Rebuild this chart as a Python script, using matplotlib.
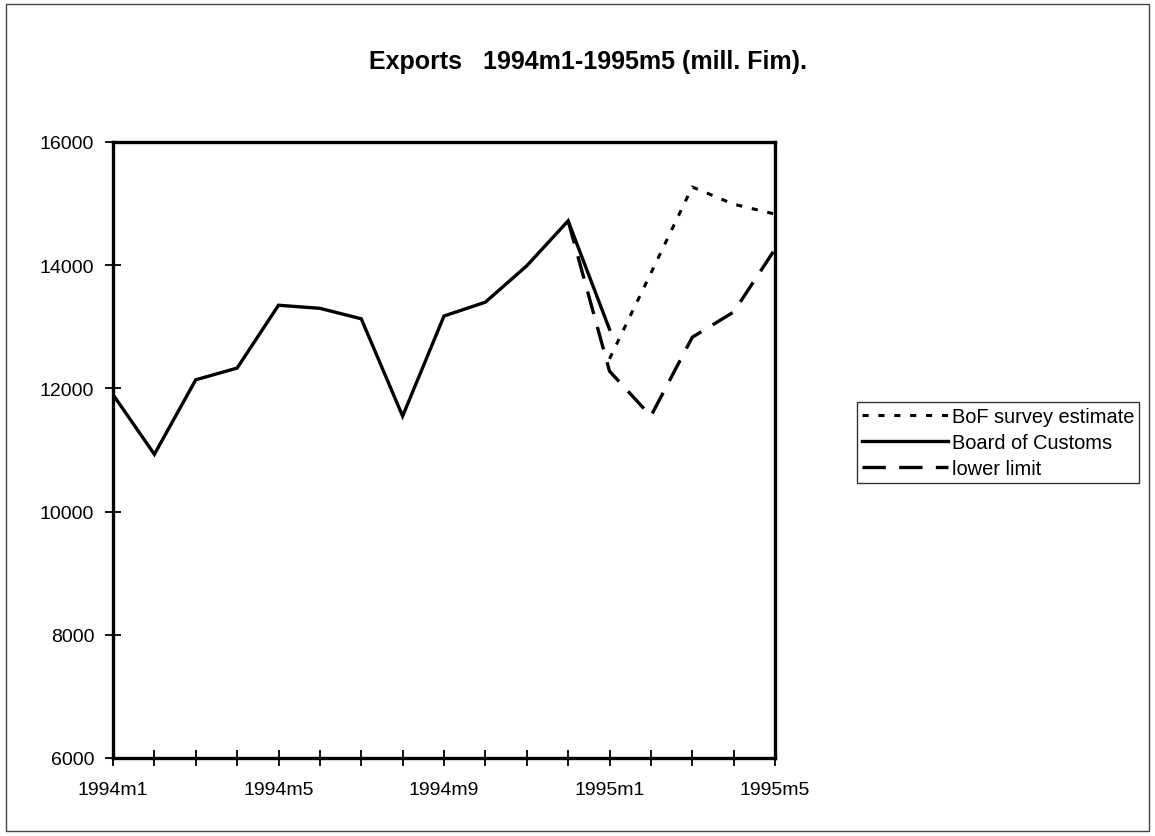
import matplotlib
matplotlib.use("Agg")
import matplotlib.pyplot as plt
from matplotlib.patches import Rectangle

plt.rcParams['font.family'] = ['Liberation Sans', 'DejaVu Sans']

months = ["1994m1", "1994m2", "1994m3", "1994m4", "1994m5", "1994m6", "1994m7", "1994m8",
          "1994m9", "1994m10", "1994m11", "1994m12", "1995m1", "1995m2", "1995m3", "1995m4", "1995m5"]
tick_labels = ["1994m1", "", "", "", "1994m5", "", "", "", "1994m9", "", "", "", "1995m1", "", "", "", "1995m5"]

customs = [11900, 10930, 12140, 12330, 13350, 13300, 13130, 11550, 13175, 13400, 13990, 14720, 12960]
bof_idx = [12, 13, 14, 15, 16]
bof = [12480, 13870, 15270, 14990, 14830]
lower_idx = [11, 12, 13, 14, 15, 16]
lower = [14720, 12280, 11550, 12830, 13240, 14260]

W, H = 1155, 837
fig = plt.figure(figsize=(W / 100, H / 100), dpi=100)
ax = fig.add_axes([113 / W, 1 - 759 / H, (775 - 113) / W, (759 - 143) / H])

x = list(range(len(months)))
l1, = ax.plot(bof_idx, bof, color='black', lw=2.2, linestyle=(0, (2, 3.2)), label='BoF survey estimate')
l2, = ax.plot(x[:len(customs)], customs, color='black', lw=2.4, solid_joinstyle='miter', label='Board of Customs')
l3, = ax.plot(lower_idx, lower, color='black', lw=2.4, linestyle=(0, (7, 4)), label='lower limit')

ax.set_xlim(0, len(months) - 1)
ax.set_ylim(6000, 16000)
ax.set_yticks([6000, 8000, 10000, 12000, 14000, 16000])
ax.set_xticks(x)
ax.set_xticklabels(tick_labels)
ax.tick_params(direction='inout', length=11, width=1.3, labelsize=14, pad=8)
ax.tick_params(axis='x', pad=11)
for s in ax.spines.values():
    s.set_linewidth(2.4)

fig.text(588 / W, 1 - 62 / H, "Exports   1994m1-1995m5 (mill. Fim).", ha='center', va='center',
         fontsize=18, fontweight='bold')

leg = fig.legend(handles=[l1, l2, l3], loc='upper left', bbox_to_anchor=(857 / W, 1 - 403 / H),
                 frameon=True, fancybox=False, fontsize=14.4, handlelength=4.3, handletextpad=0.2,
                 borderpad=0.25, labelspacing=0.35, borderaxespad=0)
leg.get_frame().set_edgecolor('black')
leg.get_frame().set_linewidth(1.0)

fig.patches.append(Rectangle((6 / W, 5 / H), (1149 - 6) / W, (832 - 5) / H, transform=fig.transFigure,
                             fill=False, edgecolor='#444444', lw=1.0))

fig.savefig("out.png", dpi=100)
